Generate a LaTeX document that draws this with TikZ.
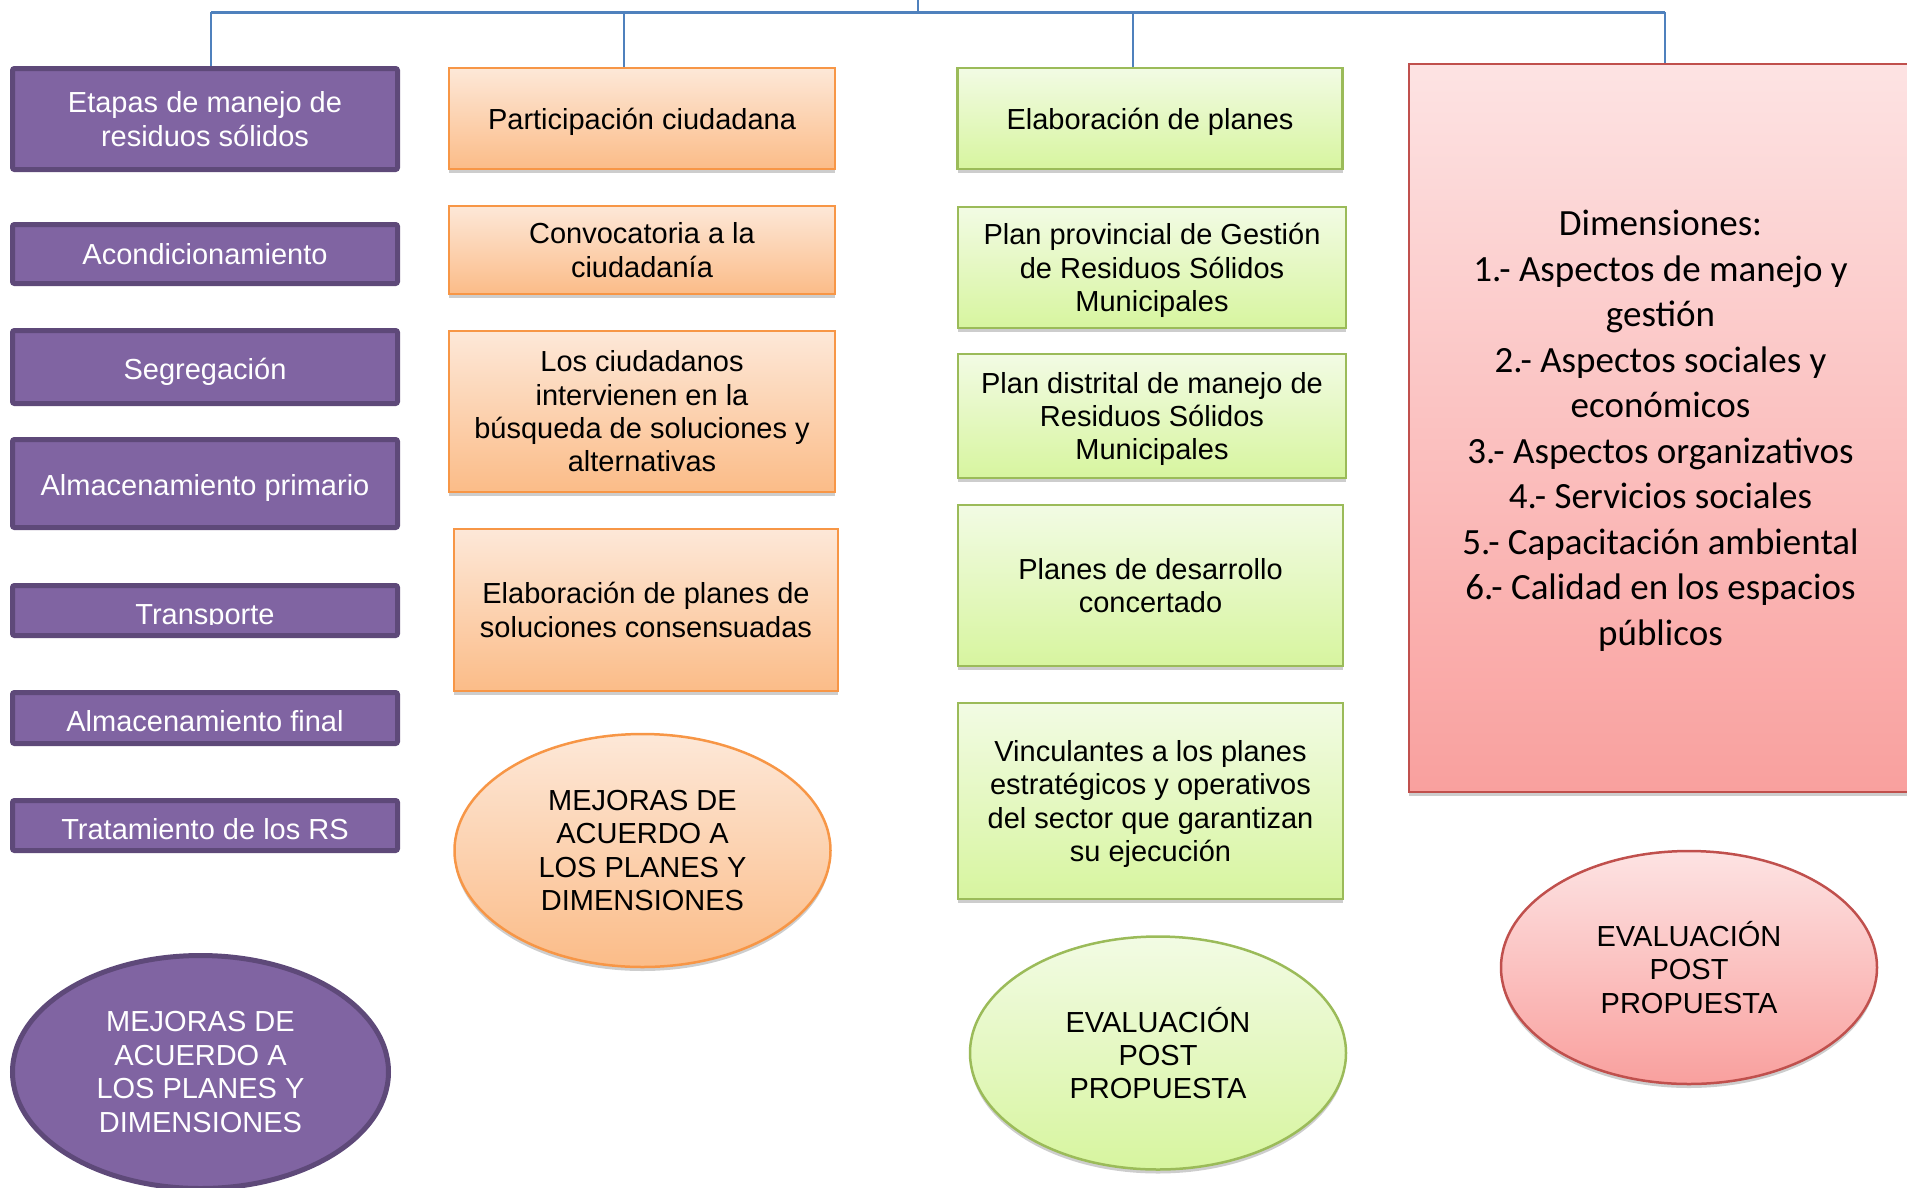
\documentclass[tikz,border=0pt]{standalone}
\usepackage{fontspec}
\setmainfont{Liberation Sans}
\newfontfamily\calib{Carlito}
\usetikzlibrary{shapes.geometric,shadows}
\definecolor{pfill}{HTML}{8064A2}
\definecolor{pline}{HTML}{5E4979}
\definecolor{oline}{HTML}{F79646}
\definecolor{otop}{HTML}{FDE8D8}
\definecolor{obot}{HTML}{FBBC88}
\definecolor{gline}{HTML}{9BBB59}
\definecolor{gtop}{HTML}{F2FBE4}
\definecolor{gbot}{HTML}{D7F59F}
\definecolor{rline}{HTML}{C0504D}
\definecolor{rtop}{HTML}{FDE3E3}
\definecolor{rbot}{HTML}{F9A09E}
\definecolor{blin}{HTML}{4F81BD}
\newcommand\lastl[2][0pt]{\raisebox{-#1}[\height][0pt]{#2}}
\begin{document}
\begin{tikzpicture}[x=1pt,y=-1pt,
  txt/.style={font=\fontsize{29}{33.4}\selectfont, align=center, inner sep=0pt},
  pbox/.style={txt, draw=pline, fill=pfill, line width=5pt, text=white, rounded corners=2pt},
  sh/.style={drop shadow={shadow xshift=0pt, shadow yshift=-4pt, opacity=0.28, fill=black!70}},
  obox/.style={txt, draw=oline, line width=2.5pt, top color=otop, bottom color=obot, sh},
  gbox/.style={txt, draw=gline, line width=2.5pt, top color=gtop, bottom color=gbot, sh},
  rbox/.style={txt, draw=rline, line width=2.5pt, top color=rtop, bottom color=rbot, sh},
  ell/.style={ellipse, minimum width=376, minimum height=233},
  conn/.style={draw=blin, line width=2.5pt}
]
\path[use as bounding box, clip] (0,0) rectangle (1907,1187);

% purple column
\node[pbox, minimum width=385, minimum height=101] (etapas) at (205,119) {Etapas de manejo de\\residuos sólidos};
\node[pbox, minimum width=385, minimum height=59] (acond) at (205,254) {Acondicionamiento};
\node[pbox, minimum width=385, minimum height=73] (segreg) at (205,367) {\lastl[2pt]{Segregación}};
\node[pbox, minimum width=385, minimum height=88] (almprim) at (205,483.5) {\lastl[1pt]{Almacenamiento primario}};
\node[pbox, minimum width=385, minimum height=50] (transp) at (205,610.5) {};
\begin{scope}
  \clip (15,585) rectangle (395,624.5);
  \node[txt, text=white, anchor=base] (transptxt) at (205,624) {Transporte};
\end{scope}
\node[pbox, minimum width=385, minimum height=51] (almfin) at (205,718) {\lastl[3pt]{Almacenamiento final}};
\node[pbox, minimum width=385, minimum height=50] (trat) at (205,825.5) {\lastl[3pt]{Tratamiento de los RS}};
\node[pbox, ell, rounded corners=0pt] (mejp) at (200.5,1072) {MEJORAS DE\\ACUERDO A\\LOS PLANES Y\\DIMENSIONES};

% orange column
\node[obox, minimum width=386, minimum height=101] (partic) at (642,118.5) {\lastl{Participación ciudadana}};
\node[obox, minimum width=386, minimum height=88] (convoc) at (642,250) {Convocatoria a la\\ciudadanía};
\node[obox, minimum width=386, minimum height=161] (ciudad) at (642,411.5) {Los ciudadanos\\intervienen en la\\búsqueda de soluciones y\\alternativas};
\node[obox, minimum width=384, minimum height=162] (elabsol) at (646,610) {Elaboración de planes de\\soluciones consensuadas};
\node[obox, ell] (mejo) at (642.5,850.5) {MEJORAS DE\\ACUERDO A\\LOS PLANES Y\\DIMENSIONES};

% green column
\node[gbox, minimum width=385, minimum height=101] (elab) at (1150,118.5) {\lastl{Elaboración de planes}};
\node[gbox, minimum width=388, minimum height=121] (prov) at (1152,267.5) {Plan provincial de Gestión\\de Residuos Sólidos\\\lastl{Municipales}};
\node[gbox, minimum width=388, minimum height=124] (dist) at (1152,416) {Plan distrital de manejo de\\Residuos Sólidos\\\lastl{Municipales}};
\node[gbox, minimum width=385, minimum height=161] (desar) at (1150.5,585.5) {Planes de desarrollo\\concertado};
\node[gbox, minimum width=385, minimum height=196] (vinc) at (1150.5,801) {Vinculantes a los planes\\estratégicos y operativos\\del sector que garantizan\\\lastl{su ejecución}};
\node[gbox, ell] (evalg) at (1158,1053) {EVALUACIÓN\\POST\\PROPUESTA};

% red column
\node[rbox, minimum width=503, minimum height=728, font=\calib\fontsize{37}{45.5}\selectfont] (dim) at (1660.5,428) {Dimensiones:\\1.- Aspectos de manejo y\\gestión\\2.- Aspectos sociales y\\económicos\\3.- Aspectos organizativos\\4.- Servicios sociales\\5.- Capacitación ambiental\\6.- Calidad en los espacios\\\lastl{públicos}};
\node[rbox, ell] (evalr) at (1689,967.5) {EVALUACIÓN\\POST\\PROPUESTA};

% connectors
\coordinate (top) at (918,0);
\coordinate (bus) at (918,12);
\coordinate (busL) at (211,12);
\coordinate (busO) at (624,12);
\coordinate (busG) at (1133,12);
\coordinate (busR) at (1665,12);
\draw[conn] (top) -- (bus);
\draw[conn, line width=3pt] (busL) -- (busR);
\draw[conn] (busL) -- (busL |- etapas.north);
\draw[conn] (busO) -- (busO |- partic.north);
\draw[conn] (busG) -- (busG |- elab.north);
\draw[conn] (busR) -- (busR |- dim.north);
\end{tikzpicture}
\end{document}
